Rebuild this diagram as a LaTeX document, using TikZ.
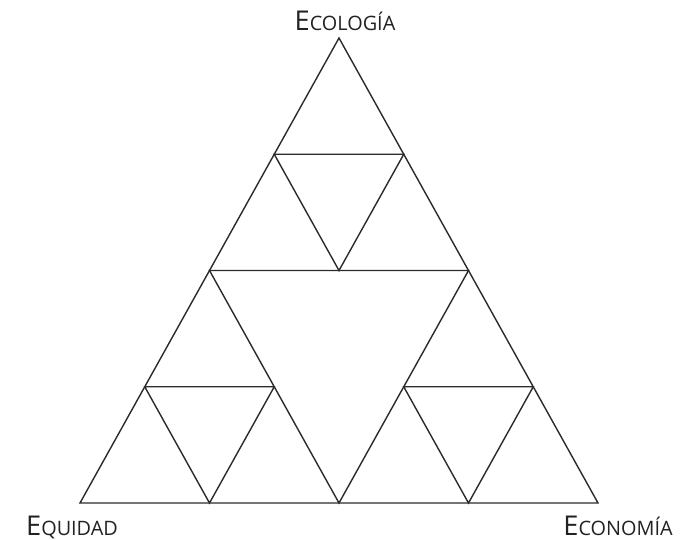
\documentclass[tikz,border=0pt]{standalone}
\usepackage{fontspec}
\setmainfont{Open Sans}
\usepackage{tikz}
\usetikzlibrary{positioning,calc}
\definecolor{edge}{HTML}{2B2B2B}
\definecolor{labeltxt}{HTML}{222222}
\newcommand{\fakesc}[2]{{\fontsize{15.5}{18}\selectfont #1}{\fontsize{11.3}{13}\selectfont #2}}
\tikzset{
  tline/.style={line width=0.8pt,draw=edge,line join=miter},
  tlabel/.style={text=labeltxt,inner sep=0pt,anchor=base}
}
\begin{document}
\begin{tikzpicture}[x=0.02cm,y=-0.02cm]
  \useasboundingbox (0,0) rectangle (694,539);
  % outer corners
  \coordinate (top) at (339,38);
  \coordinate (left) at (80,503);
  \coordinate (right) at (598,503);
  % first subdivision
  \coordinate (ml) at ($(top)!0.5!(left)$);
  \coordinate (mr) at ($(top)!0.5!(right)$);
  \coordinate (mb) at ($(left)!0.5!(right)$);
  % second subdivision
  \coordinate (t1) at ($(top)!0.5!(ml)$);
  \coordinate (t2) at ($(top)!0.5!(mr)$);
  \coordinate (t3) at ($(ml)!0.5!(mr)$);
  \coordinate (l1) at ($(ml)!0.5!(left)$);
  \coordinate (l2) at ($(ml)!0.5!(mb)$);
  \coordinate (l3) at ($(left)!0.5!(mb)$);
  \coordinate (r1) at ($(mr)!0.5!(mb)$);
  \coordinate (r2) at ($(mr)!0.5!(right)$);
  \coordinate (r3) at ($(mb)!0.5!(right)$);
  \draw[tline] (top) -- (left) -- (right) -- cycle;
  \draw[tline] (ml) -- (mr) -- (mb) -- cycle;
  \draw[tline] (t1) -- (t2) -- (t3) -- cycle;
  \draw[tline] (l1) -- (l2) -- (l3) -- cycle;
  \draw[tline] (r1) -- (r2) -- (r3) -- cycle;
  % labels
  \node[tlabel] (ecologia) at (345,30) {\fakesc{E}{COLOGÍA}};
  \node[tlabel] (equidad) at (72,535) {\fakesc{E}{QUIDAD}};
  \node[tlabel] (economia) at (618,535) {\fakesc{E}{CONOMÍA}};
\end{tikzpicture}
\end{document}
